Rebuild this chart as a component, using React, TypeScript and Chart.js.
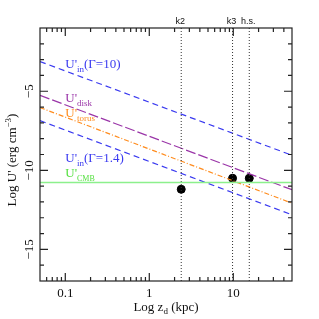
import React, { useEffect, useRef } from "react";
import { Chart, registerables } from "chart.js";

Chart.register(...registerables);

// ---- data ----
const xMin = 0.05;
const xMax = 50;
const yMin = -17;
const yMax = -1;

const lineX = [0.05, 50];
const gamma10Y = [-3.12, -9.05];
const diskY = [-5.26, -11.23];
const torusY = [-6.03, -12.08];
const gamma14Y = [-6.86, -12.81];
const cmbY = [-10.77, -10.77];

const knotNames = ["k2", "k3", "h.s."];
const knotX = [2.4, 9.8, 15.5];
const knotY = [-11.2, -10.5, -10.5];

const xMajorTicks = [0.1, 1, 10];
const xTickLabels = ["0.1", "1", "10"];
const xMinorTicks = [
  0.06, 0.07, 0.08, 0.09, 0.2, 0.3, 0.4, 0.5, 0.6, 0.7, 0.8, 0.9, 2, 3, 4, 5, 6,
  7, 8, 9, 20, 30, 40,
];
const yMajorTicks = [-5, -10, -15];
const yTickLabels = ["\u22125", "\u221210", "\u221215"];
const yMinorTicks = [-2, -3, -4, -6, -7, -8, -9, -11, -12, -13, -14, -16];

// label anchors (data coords)
const labelX = 0.1;
const labelGamma10Y = -3.26;
const labelDiskY = -5.4;
const labelTorusY = -6.35;
const labelGamma14Y = -9.2;
const labelCmbY = -10.2;

const BLUE = "#3a3af0";
const MAGENTA = "#9a35a8";
const ORANGE = "#ff8c1e";
const GREEN = "#8cf08c";
const GREEN_TEXT = "#55e040";
const SERIF = "'Liberation Serif', 'DejaVu Serif', serif";
const SANS = "'Liberation Sans', 'DejaVu Sans', sans-serif";

type Part = { t: string; size: number; dy?: number };

function drawRich(ctx: CanvasRenderingContext2D, x: number, y: number, parts: Part[], color: string) {
  ctx.save();
  ctx.fillStyle = color;
  ctx.textAlign = "left";
  ctx.textBaseline = "alphabetic";
  let cx = x;
  for (const p of parts) {
    ctx.font = `${p.size}px ${SERIF}`;
    ctx.fillText(p.t, cx, y + (p.dy || 0));
    cx += ctx.measureText(p.t).width;
  }
  ctx.restore();
}

function richWidth(ctx: CanvasRenderingContext2D, parts: Part[]) {
  let w = 0;
  ctx.save();
  for (const p of parts) {
    ctx.font = `${p.size}px ${SERIF}`;
    w += ctx.measureText(p.t).width;
  }
  ctx.restore();
  return w;
}

const framePlugin = {
  id: "framePlugin",
  afterDraw(chart: any) {
    const { ctx, chartArea: ca, scales } = chart;
    const xs = scales.x;
    const ys = scales.y;
    ctx.save();
    ctx.strokeStyle = "#222";
    ctx.lineWidth = 1.2;
    ctx.strokeRect(ca.left, ca.top, ca.right - ca.left, ca.bottom - ca.top);

    const minorLen = 4;
    const majorLen = 8;
    ctx.beginPath();
    const xt = (v: number, len: number) => {
      const px = xs.getPixelForValue(v);
      ctx.moveTo(px, ca.bottom);
      ctx.lineTo(px, ca.bottom - len);
      ctx.moveTo(px, ca.top);
      ctx.lineTo(px, ca.top + len);
    };
    const yt = (v: number, len: number) => {
      const py = ys.getPixelForValue(v);
      ctx.moveTo(ca.left, py);
      ctx.lineTo(ca.left + len, py);
      ctx.moveTo(ca.right, py);
      ctx.lineTo(ca.right - len, py);
    };
    xMinorTicks.forEach((v) => xt(v, minorLen));
    xMajorTicks.forEach((v) => xt(v, majorLen));
    yMinorTicks.forEach((v) => yt(v, minorLen));
    yMajorTicks.forEach((v) => yt(v, majorLen));
    ctx.stroke();

    // x tick labels
    ctx.fillStyle = "#111";
    ctx.font = `13px ${SERIF}`;
    ctx.textAlign = "center";
    ctx.textBaseline = "middle";
    xMajorTicks.forEach((v, i) => {
      ctx.fillText(xTickLabels[i], xs.getPixelForValue(v), ca.bottom + 13);
    });
    // y tick labels (rotated)
    yMajorTicks.forEach((v, i) => {
      ctx.save();
      ctx.translate(ca.left - 10, ys.getPixelForValue(v));
      ctx.rotate(-Math.PI / 2);
      ctx.fillText(yTickLabels[i], 0, 0);
      ctx.restore();
    });

    // x title
    const xTitle: Part[] = [
      { t: "Log z", size: 13 },
      { t: "d", size: 9, dy: 3 },
      { t: " (kpc)", size: 13 },
    ];
    const xw = richWidth(ctx, xTitle);
    drawRich(ctx, (ca.left + ca.right) / 2 - xw / 2, ca.bottom + 30, xTitle, "#111");

    // y title
    const yTitle: Part[] = [
      { t: "Log U' (erg cm", size: 13 },
      { t: "\u22123", size: 9, dy: -5 },
      { t: ")", size: 13 },
    ];
    const yw = richWidth(ctx, yTitle);
    ctx.save();
    ctx.translate(16, 160);
    ctx.rotate(-Math.PI / 2);
    drawRich(ctx, -yw / 2, 0, yTitle, "#111");
    ctx.restore();

    // knot labels
    ctx.font = `9px ${SANS}`;
    ctx.fillStyle = "#111";
    ctx.textAlign = "center";
    ctx.textBaseline = "alphabetic";
    knotNames.forEach((n, i) => {
      ctx.fillText(n, xs.getPixelForValue(knotX[i]) - 1, ca.top - 4);
    });

    // curve labels
    const lx = xs.getPixelForValue(labelX);
    drawRich(
      ctx, lx, ys.getPixelForValue(labelGamma10Y) + 4,
      [{ t: "U'", size: 13 }, { t: "in", size: 9, dy: 4 }, { t: "(\u0393=10)", size: 13 }],
      BLUE
    );
    drawRich(
      ctx, lx, ys.getPixelForValue(labelDiskY) + 4,
      [{ t: "U'", size: 13 }, { t: "disk", size: 9, dy: 4 }],
      MAGENTA
    );
    drawRich(
      ctx, lx, ys.getPixelForValue(labelTorusY) + 4,
      [{ t: "U'", size: 13 }, { t: "torus", size: 9, dy: 4 }],
      ORANGE
    );
    drawRich(
      ctx, lx, ys.getPixelForValue(labelGamma14Y) + 4,
      [{ t: "U'", size: 13 }, { t: "in", size: 9, dy: 4 }, { t: "(\u0393=1.4)", size: 13 }],
      BLUE
    );
    drawRich(
      ctx, lx, ys.getPixelForValue(labelCmbY) + 4,
      [{ t: "U'", size: 13 }, { t: "CMB", size: 8, dy: 4 }],
      GREEN_TEXT
    );
    ctx.restore();
  },
};

function pts(xv: number[], yv: number[]) {
  return xv.map((x, i) => ({ x, y: yv[i] }));
}

export default function App() {
  const ref = useRef<HTMLCanvasElement | null>(null);
  useEffect(() => {
    document.body.style.margin = "0";
    const canvas = ref.current!;
    const lineDs = (data: any, color: string, dash: number[], width = 1.2) => ({
      type: "line" as const,
      data,
      borderColor: color,
      borderWidth: width,
      borderDash: dash,
      pointRadius: 0,
      fill: false,
      tension: 0,
    });
    const vlines = knotX.map((kx) =>
      lineDs(pts([kx, kx], [yMin, yMax]), "#333", [1, 2], 1)
    );
    const chart = new Chart(canvas, {
      type: "line",
      data: {
        datasets: [
          lineDs(pts(lineX, cmbY), GREEN, [], 1.5),
          ...vlines,
          lineDs(pts(lineX, gamma10Y), BLUE, [6, 4]),
          lineDs(pts(lineX, diskY), MAGENTA, [10, 3]),
          lineDs(pts(lineX, torusY), ORANGE, [5, 2, 1, 2]),
          lineDs(pts(lineX, gamma14Y), BLUE, [6, 4]),
          {
            type: "scatter" as const,
            data: pts(knotX, knotY),
            backgroundColor: "#000",
            borderColor: "#000",
            pointRadius: 4,
            showLine: false,
          } as any,
        ],
      },
      options: {
        responsive: false,
        animation: false,
        events: [],
        layout: { padding: { left: 40, top: 28, right: 27, bottom: 38 } },
        plugins: { legend: { display: false }, tooltip: { enabled: false } },
        scales: {
          x: { type: "logarithmic", min: xMin, max: xMax, display: false },
          y: { type: "linear", min: yMin, max: yMax, display: false },
        },
      },
      plugins: [framePlugin],
    });
    return () => chart.destroy();
  }, []);
  return <canvas ref={ref} width={319} height={319} style={{ display: "block" }} />;
}
